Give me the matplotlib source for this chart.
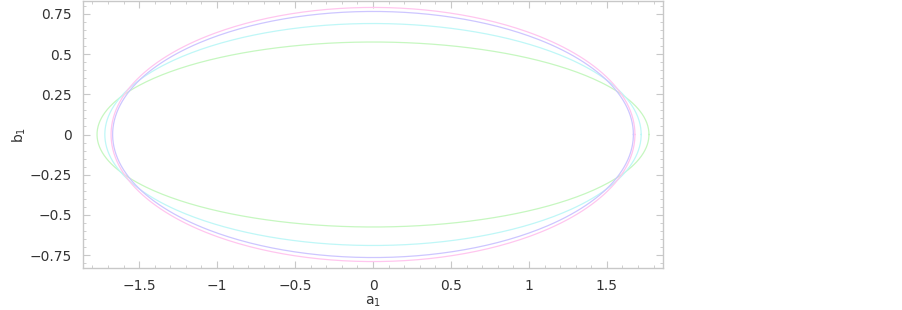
import numpy as np
import matplotlib
matplotlib.use("Agg")
import matplotlib.pyplot as plt
from matplotlib.ticker import MultipleLocator, FixedFormatter, FixedLocator

# ------------------ Data: semi-axes of each closed curve ------------------
curve_names = ["green", "cyan", "blue", "pink"]
half_width = [1.77, 1.72, 1.67, 1.68]     # extent along a1
half_height = [0.575, 0.69, 0.765, 0.79]  # extent along b1
colors = ["#c6f7c0", "#bff7f7", "#cdc6ff", "#ffc6ef"]

x_ticks = [-1.5, -1, -0.5, 0, 0.5, 1, 1.5]
x_labels = ["\u22121.5", "\u22121", "\u22120.5", "0", "0.5", "1", "1.5"]
y_ticks = [-0.75, -0.5, -0.25, 0, 0.25, 0.5, 0.75]
y_labels = ["\u22120.75", "\u22120.5", "\u22120.25", "0", "0.25", "0.5", "0.75"]

# ------------------ Plotting ------------------
fig = plt.figure(figsize=(9.02, 3.10), dpi=100)
ax = fig.add_axes([83 / 902, 42 / 310, 580 / 902, 267 / 310])

t = np.linspace(0, 2 * np.pi, 400)
for a, b, c in zip(half_width, half_height, colors):
    ax.plot(a * np.cos(t), b * np.sin(t), color=c, lw=0.9)

ax.set_xlim(-1.86, 1.86)
ax.set_ylim(-0.83, 0.83)

ax.xaxis.set_major_locator(FixedLocator(x_ticks))
ax.xaxis.set_major_formatter(FixedFormatter(x_labels))
ax.yaxis.set_major_locator(FixedLocator(y_ticks))
ax.yaxis.set_major_formatter(FixedFormatter(y_labels))
ax.xaxis.set_minor_locator(MultipleLocator(0.1))
ax.yaxis.set_minor_locator(MultipleLocator(0.05))

frame_col = "#c8c8c8"
for s in ax.spines.values():
    s.set_color(frame_col)
    s.set_linewidth(1.0)
ax.tick_params(which="both", direction="in", top=True, right=True,
               color=frame_col, labelcolor="#333333", labelsize=10)
ax.tick_params(axis="x", which="major", length=5, pad=8)
ax.tick_params(axis="y", which="major", length=5, pad=8)
ax.tick_params(which="minor", length=2.5)

ax.set_xlabel("a$_1$", fontsize=10, color="#333333", labelpad=1)
ax.set_ylabel("b$_1$", fontsize=10, color="#333333", labelpad=1)

fig.savefig("out.png", dpi=100)
